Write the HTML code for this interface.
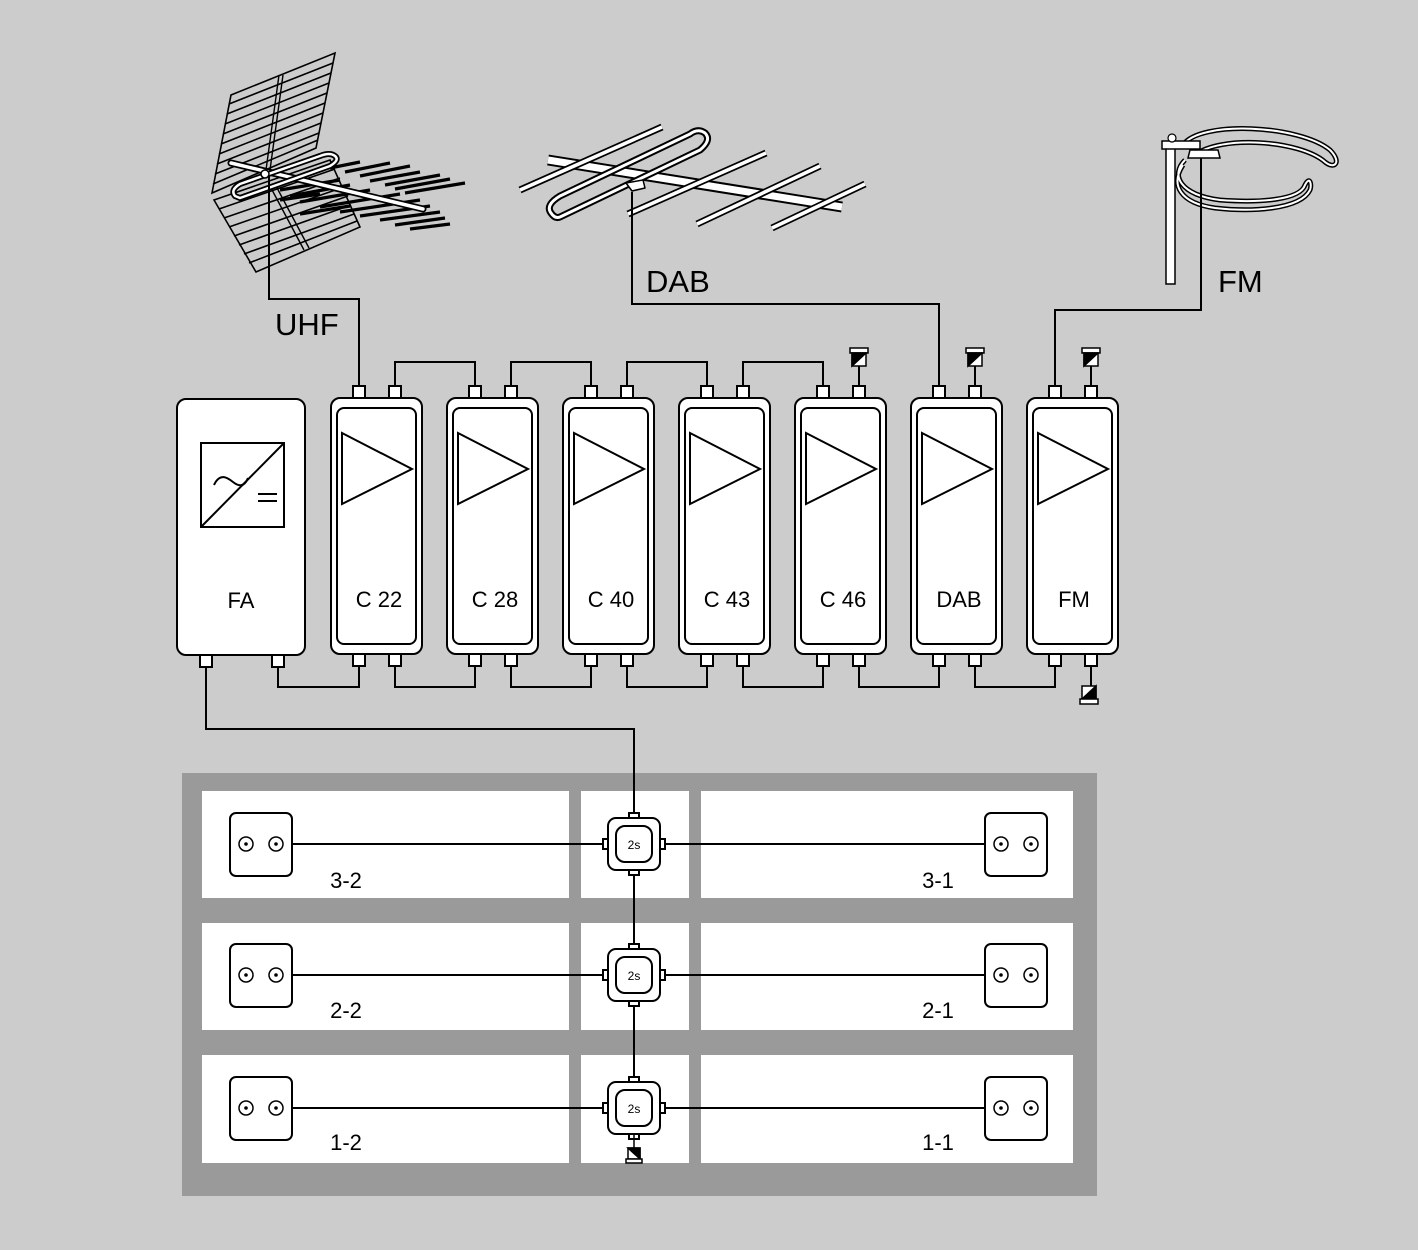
<!DOCTYPE html>
<html><head><meta charset="utf-8"><style>
html,body{margin:0;padding:0;background:#cccccc;}
svg{display:block;font-family:"Liberation Sans",Arial,sans-serif;}
</style></head><body>
<svg width="1418" height="1250" viewBox="0 0 1418 1250" xmlns="http://www.w3.org/2000/svg">
<rect width="1418" height="1250" fill="#cccccc"/>

<!-- UHF antenna -->
<g stroke="#000" fill="none" stroke-width="1.6">
  <!-- upper panel -->
  <path d="M231,95 L335,53 L316,148 L212,193 Z" fill="none"/>
  <path d="M229,104 L333,63 M227,114 L331,73 M225,124 L329,83 M223,134 L327,93 M221,144 L325,103 M219,154 L323,113 M217,164 L321,123 M215,174 L319,133 M213,184 L318,140"/>
  <!-- lower panel -->
  <path d="M214,200 L330,160 L360,227 L256,272 Z"/>
  <path d="M219,209 L335,169 M224,218 L340,178 M229,227 L344,187 M234,236 L348,196 M239,245 L351,205 M244,254 L354,214 M249,263 L357,221"/>
  <!-- vertical mast lines of panels -->
  <path d="M279,75 L266,170 M283,75 L270,170" stroke-width="1.4"/>
  <path d="M271,188 L304,250 M276,186 L309,248" stroke-width="1.4"/>
</g>
<!-- director bars -->
<g stroke="#000" stroke-width="3.2">
  <path d="M330,168 L360,162 M345,172 L390,163 M360,176 L410,166 M370,181 L420,172 M385,185 L440,175 M395,189 L450,179 M405,193 L465,183 M280,190 L340,180 M290,196 L350,185 M300,202 L370,190 M320,207 L400,194 M340,212 L420,200 M360,216 L430,206 M380,220 L440,212 M395,225 L445,218 M410,229 L450,224 M280,200 L320,194 M300,214 L350,206"/>
</g>
<!-- boom and dipole -->
<g fill="none" stroke-linecap="round">
  <path d="M231,163 L423,209" stroke="#000" stroke-width="7"/>
  <path d="M231,163 L423,209" stroke="#fff" stroke-width="3.5"/>
  <path d="M240,198 L330,166 Q340,160 335,156 Q330,152 320,156 L240,184 Q230,190 235,196 Z" stroke="#000" stroke-width="6"/>
  <path d="M240,198 L330,166 Q340,160 335,156 Q330,152 320,156 L240,184 Q230,190 235,196 Z" stroke="#fff" stroke-width="2.5"/>
  <circle cx="265" cy="174" r="4" fill="#fff" stroke="#000" stroke-width="1.5"/>
</g>
<path d="M269,176 V299 H359 V386" fill="none" stroke="#000" stroke-width="2"/>
<text x="275" y="335" font-size="31" fill="#000">UHF</text>

<!-- DAB antenna -->
<g fill="none" stroke-linejoin="round">
  <path d="M548,160 L842,207" stroke="#000" stroke-width="11"/>
  <path d="M548,160 L842,207" stroke="#fff" stroke-width="7"/>
  <path d="M520,190 L662,127" stroke="#000" stroke-width="7"/>
  <path d="M520,190 L662,127" stroke="#fff" stroke-width="3.5"/>
  <path d="M560,217 L700,150 Q712,140 705,133 Q698,128 690,134 L560,196 Q545,205 551,213 Q555,219 560,217 Z" stroke="#000" stroke-width="7"/>
  <path d="M560,217 L700,150 Q712,140 705,133 Q698,128 690,134 L560,196 Q545,205 551,213 Q555,219 560,217 Z" stroke="#fff" stroke-width="3"/>
  <path d="M628,214 L766,153" stroke="#000" stroke-width="7"/>
  <path d="M628,214 L766,153" stroke="#fff" stroke-width="3.5"/>
  <path d="M697,224 L820,166" stroke="#000" stroke-width="7"/>
  <path d="M697,224 L820,166" stroke="#fff" stroke-width="3.5"/>
  <path d="M772,228 L865,184" stroke="#000" stroke-width="7"/>
  <path d="M772,228 L865,184" stroke="#fff" stroke-width="3.5"/>
  <path d="M626,183 L643,180 L645,188 L632,191 Z" fill="#fff" stroke="#000" stroke-width="1.5"/>
</g>
<path d="M632,192 V304 H939 V386" fill="none" stroke="#000" stroke-width="2"/>
<text x="646" y="292" font-size="31" fill="#000">DAB</text>

<!-- FM antenna -->
<g fill="none">
  <path d="M1183,145 C1200,120 1300,125 1330,150 C1342,162 1335,170 1325,162 C1300,140 1220,135 1195,155" stroke="#000" stroke-width="5"/>
  <path d="M1183,145 C1200,120 1300,125 1330,150 C1342,162 1335,170 1325,162 C1300,140 1220,135 1195,155" stroke="#fff" stroke-width="2"/>
  <path d="M1185,160 C1170,175 1180,195 1220,200 C1260,203 1300,200 1305,185 C1310,175 1312,185 1310,190 C1300,210 1250,212 1215,208 C1180,203 1170,185 1183,165" stroke="#000" stroke-width="5"/>
  <path d="M1185,160 C1170,175 1180,195 1220,200 C1260,203 1300,200 1305,185 C1310,175 1312,185 1310,190 C1300,210 1250,212 1215,208 C1180,203 1170,185 1183,165" stroke="#fff" stroke-width="2"/>
  <rect x="1166" y="148" width="9" height="136" fill="#fff" stroke="#000" stroke-width="1.5"/>
  <path d="M1190,150 L1218,150 L1220,158 L1188,158 Z" fill="#fff" stroke="#000" stroke-width="1.5"/>
  <rect x="1162" y="141" width="38" height="8" fill="#fff" stroke="#000" stroke-width="1.5"/>
  <circle cx="1172" cy="138" r="4" fill="#fff" stroke="#000" stroke-width="1.2"/>
</g>
<path d="M1201,158 V310 H1055 V386" fill="none" stroke="#000" stroke-width="2"/>
<text x="1218" y="292" font-size="31" fill="#000">FM</text>

<!-- top links -->
<g fill="none" stroke="#000" stroke-width="2">
  <path d="M395,386 V362 H475 V386"/>
  <path d="M511,386 V362 H591 V386"/>
  <path d="M627,386 V362 H707 V386"/>
  <path d="M743,386 V362 H823 V386"/>
  <path d="M859,366 V386 M975,366 V386 M1091,366 V386"/>
  <!-- bottom links -->
  <path d="M278,666 V687 H359 V666"/>
  <path d="M395,666 V687 H475 V666"/>
  <path d="M511,666 V687 H591 V666"/>
  <path d="M627,666 V687 H707 V666"/>
  <path d="M743,666 V687 H823 V666"/>
  <path d="M859,666 V687 H939 V666"/>
  <path d="M975,666 V687 H1055 V666"/>
  <path d="M1091,666 V686"/>
  <path d="M206,666 V729 H634 V1100"/>
</g>

<!-- terminators top -->
<g stroke="#000" stroke-width="1.5">
  <g transform="translate(859,0)"><rect x="-9" y="348" width="18" height="5" fill="#fff"/><rect x="-7" y="353" width="14" height="13" fill="#fff"/><path d="M-7,353 H7 L-7,366 Z" fill="#000"/></g>
  <g transform="translate(975,0)"><rect x="-9" y="348" width="18" height="5" fill="#fff"/><rect x="-7" y="353" width="14" height="13" fill="#fff"/><path d="M-7,353 H7 L-7,366 Z" fill="#000"/></g>
  <g transform="translate(1091,0)"><rect x="-9" y="348" width="18" height="5" fill="#fff"/><rect x="-7" y="353" width="14" height="13" fill="#fff"/><path d="M-7,353 H7 L-7,366 Z" fill="#000"/></g>
  <g transform="translate(1089,0)"><rect x="-7" y="686" width="14" height="13" fill="#fff"/><path d="M7,686 V699 H-7 Z" fill="#000"/><rect x="-9" y="699" width="18" height="5" fill="#fff"/></g>
</g>

<!-- FA -->
<g stroke="#000" stroke-width="2">
  <rect x="200" y="655" width="12" height="12" fill="#fff"/>
  <rect x="272" y="655" width="12" height="12" fill="#fff"/>
  <rect x="177" y="399" width="128" height="256" rx="9" fill="#fff"/>
  <rect x="201" y="443" width="83" height="84" fill="#fff"/>
  <path d="M201,527 L284,443" fill="none"/>
  <path d="M214,485 C220,472 228,478 233,482 C238,486 244,488 248,478" fill="none"/>
  <path d="M258,494 H277 M258,501 H277" fill="none"/>
</g>
<text x="241" y="608" font-size="22" text-anchor="middle">FA</text>

<!-- modules -->
<defs>
<g id="mod">
  <rect x="22" y="386" width="12" height="12" fill="#fff" stroke="#000" stroke-width="2"/>
  <rect x="58" y="386" width="12" height="12" fill="#fff" stroke="#000" stroke-width="2"/>
  <rect x="22" y="654" width="12" height="12" fill="#fff" stroke="#000" stroke-width="2"/>
  <rect x="58" y="654" width="12" height="12" fill="#fff" stroke="#000" stroke-width="2"/>
  <rect x="0" y="398" width="91" height="256" rx="9" fill="#fff" stroke="#000" stroke-width="2"/>
  <rect x="6" y="408" width="79" height="236" rx="7" fill="#fff" stroke="#000" stroke-width="2"/>
  <path d="M11,433 L11,504 L81,469 Z" fill="#fff" stroke="#000" stroke-width="2"/>
</g>
</defs>
<use href="#mod" x="331"/>
<use href="#mod" x="447"/>
<use href="#mod" x="563"/>
<use href="#mod" x="679"/>
<use href="#mod" x="795"/>
<use href="#mod" x="911"/>
<use href="#mod" x="1027"/>
<g font-size="22" text-anchor="middle">
  <text x="379" y="607">C 22</text>
  <text x="495" y="607">C 28</text>
  <text x="611" y="607">C 40</text>
  <text x="727" y="607">C 43</text>
  <text x="843" y="607">C 46</text>
  <text x="959" y="607">DAB</text>
  <text x="1074" y="607">FM</text>
</g>

<!-- building -->
<rect x="182" y="773" width="915" height="423" fill="#9a9a9a"/>
<g fill="#fff">
  <rect x="202" y="791" width="367" height="107"/><rect x="581" y="791" width="108" height="107"/><rect x="701" y="791" width="372" height="107"/>
  <rect x="202" y="923" width="367" height="107"/><rect x="581" y="923" width="108" height="107"/><rect x="701" y="923" width="372" height="107"/>
  <rect x="202" y="1055" width="367" height="108"/><rect x="581" y="1055" width="108" height="108"/><rect x="701" y="1055" width="372" height="108"/>
</g>
<path d="M634,1098 V729" stroke="#000" stroke-width="2" fill="none"/>
<defs>
<g id="row">
  <path d="M292,0 H985" stroke="#000" stroke-width="2"/>
  <rect x="230" y="-31" width="62" height="63" rx="6" fill="#fff" stroke="#000" stroke-width="2"/>
  <circle cx="246" cy="0" r="7" fill="#fff" stroke="#000" stroke-width="1.5"/><circle cx="246" cy="0" r="1.8"/>
  <circle cx="276" cy="0" r="7" fill="#fff" stroke="#000" stroke-width="1.5"/><circle cx="276" cy="0" r="1.8"/>
  <rect x="985" y="-31" width="62" height="63" rx="6" fill="#fff" stroke="#000" stroke-width="2"/>
  <circle cx="1001" cy="0" r="7" fill="#fff" stroke="#000" stroke-width="1.5"/><circle cx="1001" cy="0" r="1.8"/>
  <circle cx="1031" cy="0" r="7" fill="#fff" stroke="#000" stroke-width="1.5"/><circle cx="1031" cy="0" r="1.8"/>
  <g stroke="#000" stroke-width="2" fill="#fff">
    <rect x="629" y="-31" width="10" height="6"/><rect x="629" y="25" width="10" height="6"/>
    <rect x="603" y="-5" width="6" height="10"/><rect x="659" y="-5" width="6" height="10"/>
    <rect x="608" y="-26" width="52" height="52" rx="8"/>
    <rect x="616" y="-18" width="36" height="36" rx="9"/>
  </g>
  <text x="634" y="5" font-size="12" text-anchor="middle">2s</text>
</g>
</defs>
<use href="#row" y="844"/>
<use href="#row" y="975"/>
<use href="#row" y="1108"/>
<g stroke="#000" stroke-width="1.5">
  <path d="M634,1134 V1148" fill="none"/>
  <rect x="628" y="1148" width="12" height="11" fill="#fff"/><path d="M628,1148 H640 V1159 Z" fill="#000"/>
  <rect x="626" y="1159" width="16" height="4" fill="#fff"/>
</g>
<g font-size="22" text-anchor="middle">
  <text x="346" y="888">3-2</text><text x="938" y="888">3-1</text>
  <text x="346" y="1018">2-2</text><text x="938" y="1018">2-1</text>
  <text x="346" y="1150">1-2</text><text x="938" y="1150">1-1</text>
</g>
</svg>
</body></html>
